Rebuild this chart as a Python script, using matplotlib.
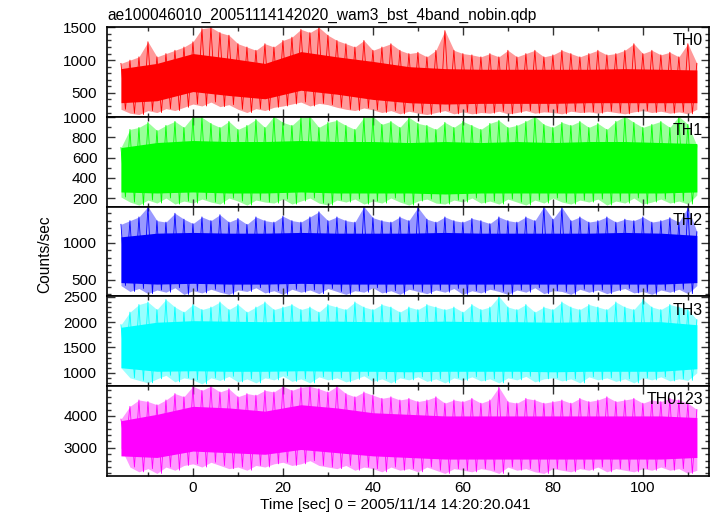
import numpy as np
import matplotlib.pyplot as plt
from matplotlib.ticker import MultipleLocator

plt.rcParams['font.family'] = ['Liberation Sans', 'DejaVu Sans']

title = "ae100046010_20051114142020_wam3_bst_4band_nobin.qdp"
xlabel = "Time [sec] 0 = 2005/11/14 14:20:20.041"
ylabel = "Counts/sec"

# time grids (sec): spike envelope every 2 s, dense core every 8 s
t_spk = np.arange(-16, 113, 2)
t_core = np.arange(-16, 113, 8)

# TH0
th0_hi = [950, 1000, 1050, 1280, 1050, 1100, 1150, 1200, 1280, 1480,
          1500, 1420, 1380, 1250, 1200, 1150, 1250, 1200, 1300, 1350,
          1470, 1420, 1500, 1380, 1300, 1250, 1200, 1300, 1150, 1200,
          1250, 1150, 1100, 1120, 1050, 1150, 1450, 1150, 1100, 1080,
          1050, 1100, 1050, 1150, 1050, 1100, 1150, 1050, 1080, 1150,
          1100, 1050, 1100, 1150, 1080, 1100, 1150, 1250, 1100, 1150,
          1080, 1120, 1050, 1250, 950]
th0_lo = [250, 190, 170, 230, 200, 260, 230, 280, 330, 300,
          360, 290, 320, 250, 200, 260, 230, 280, 300, 330,
          360, 300, 340, 320, 280, 250, 230, 270, 240, 200,
          230, 180, 220, 190, 170, 200, 230, 180, 210, 180,
          200, 190, 220, 180, 200, 230, 190, 210, 200, 180,
          220, 200, 210, 190, 220, 200, 180, 210, 230, 200,
          220, 190, 210, 180, 250]
th0_core_hi = [870, 950, 1100, 1030, 950, 1130, 1050, 980, 900, 870, 860, 860, 860, 860, 870, 860, 850]
th0_core_lo = [350, 380, 520, 460, 410, 540, 480, 400, 350, 330, 340, 340, 340, 350, 350, 350, 350]

# TH1
th1_hi = [700, 880, 900, 950, 870, 920, 960, 900, 1010, 1000,
          940, 900, 960, 880, 920, 980, 900, 1010, 950, 920,
          1000, 1010, 900, 950, 970, 920, 880, 1000, 1010, 930,
          960, 900, 1000, 940, 920, 880, 950, 900, 960, 920,
          880, 940, 970, 900, 920, 960, 1010, 930, 900, 950,
          920, 960, 900, 940, 880, 960, 1010, 950, 900, 930,
          960, 900, 1010, 930, 720]
th1_lo = [210, 160, 130, 180, 150, 200, 140, 170, 150, 190,
          160, 140, 200, 170, 130, 180, 160, 150, 190, 140,
          170, 200, 150, 130, 180, 160, 190, 140, 170, 150,
          200, 160, 130, 170, 190, 150, 140, 180, 160, 200,
          150, 170, 140, 190, 160, 130, 180, 150, 200, 160,
          140, 180, 160, 190, 130, 170, 150, 200, 140, 160,
          190, 150, 170, 140, 230]
th1_core_hi = [700, 750, 770, 760, 760, 770, 760, 760, 750, 760, 750, 760, 750, 760, 760, 750, 740]
th1_core_lo = [260, 250, 260, 250, 250, 260, 250, 250, 250, 240, 250, 250, 250, 250, 250, 250, 260]

# TH2
th2_hi = [1250, 1300, 1350, 1490, 1300, 1280, 1400, 1320, 1260, 1350,
          1300, 1380, 1280, 1330, 1250, 1350, 1300, 1280, 1360, 1300,
          1280, 1350, 1420, 1300, 1350, 1300, 1280, 1490, 1340, 1300,
          1280, 1350, 1300, 1480, 1320, 1280, 1350, 1300, 1280, 1330,
          1300, 1260, 1350, 1300, 1280, 1350, 1300, 1490, 1320, 1480,
          1300, 1350, 1280, 1300, 1350, 1280, 1320, 1300, 1350, 1280,
          1300, 1340, 1280, 1480, 1150]
th2_lo = [420, 340, 380, 310, 360, 330, 390, 300, 350, 320,
          370, 330, 300, 360, 340, 390, 320, 350, 300, 370,
          330, 360, 310, 380, 340, 300, 350, 330, 390, 320,
          350, 300, 370, 340, 310, 360, 330, 380, 300, 350,
          320, 370, 340, 300, 360, 330, 390, 310, 350, 340,
          300, 370, 330, 360, 310, 350, 380, 320, 340, 300,
          360, 330, 370, 310, 420]
th2_core_hi = [1080, 1130, 1140, 1130, 1130, 1140, 1130, 1130, 1130, 1140, 1130, 1130, 1130, 1130, 1140, 1130, 1100]
th2_core_lo = [460, 440, 450, 440, 440, 450, 440, 440, 440, 440, 440, 440, 440, 440, 440, 440, 460]

# TH3
th3_hi = [1950, 2200, 2350, 2400, 2250, 2450, 2300, 2200, 2350, 2250,
          2300, 2400, 2250, 2350, 2200, 2300, 2400, 2250, 2300, 2350,
          2250, 2300, 2200, 2350, 2300, 2250, 2400, 2300, 2250, 2350,
          2300, 2200, 2300, 2250, 2350, 2300, 2250, 2300, 2200, 2350,
          2250, 2300, 2510, 2300, 2250, 2350, 2200, 2300, 2250, 2400,
          2300, 2250, 2350, 2300, 2250, 2400, 2300, 2250, 2450, 2300,
          2250, 2350, 2300, 2250, 2050]
th3_lo = [1100, 900, 850, 800, 880, 950, 820, 900, 860, 780,
          900, 850, 930, 820, 880, 800, 900, 860, 940, 830,
          880, 800, 920, 860, 900, 820, 870, 940, 830, 880,
          800, 900, 860, 920, 830, 880, 800, 900, 850, 920,
          840, 880, 800, 900, 860, 930, 820, 880, 900, 840,
          880, 800, 920, 860, 900, 830, 880, 800, 900, 860,
          920, 840, 880, 850, 1000]
th3_core_hi = [1900, 2000, 2030, 2020, 2010, 2020, 2020, 2010, 2010, 2020, 2010, 2010, 2000, 2010, 2010, 2010, 1950]
th3_core_lo = [1100, 1030, 1040, 1030, 1030, 1040, 1030, 1030, 1020, 1030, 1030, 1030, 1020, 1030, 1030, 1030, 1080]

# TH0123
th4_hi = [3900, 4300, 4500, 4450, 4350, 4500, 4700, 4600, 4930, 4800,
          4930, 4750, 4850, 4600, 4700, 4650, 4800, 4750, 4930, 4800,
          4900, 4930, 4850, 4750, 4930, 4700, 4600, 4750, 4650, 4550,
          4600, 4500, 4550, 4450, 4500, 4600, 4400, 4500, 4450, 4550,
          4400, 4500, 4900, 4450, 4400, 4550, 4500, 4400, 4450, 4500,
          4400, 4550, 4450, 4500, 4600, 4450, 4500, 4550, 4400, 4500,
          4450, 4550, 4500, 4400, 4200]
th4_lo = [3000, 2400, 2250, 2350, 2200, 2400, 2300, 2450, 2500, 2400,
          2550, 2450, 2350, 2400, 2300, 2450, 2400, 2500, 2550, 2450,
          2500, 2600, 2450, 2400, 2350, 2450, 2300, 2400, 2350, 2250,
          2400, 2300, 2350, 2250, 2400, 2300, 2200, 2350, 2300, 2250,
          2350, 2300, 2200, 2400, 2300, 2350, 2250, 2200, 2350, 2300,
          2250, 2350, 2300, 2400, 2250, 2350, 2300, 2250, 2350, 2300,
          2400, 2300, 2350, 2200, 2300]
th4_core_hi = [3850, 4050, 4300, 4250, 4150, 4350, 4250, 4100, 4050, 4000, 4000, 4000, 4000, 4000, 4000, 4000, 3950]
th4_core_lo = [2750, 2700, 2900, 2850, 2800, 2950, 2850, 2750, 2700, 2650, 2650, 2650, 2650, 2650, 2650, 2650, 2700]

panels = [
    ("TH0", "#ff0000", th0_lo, th0_hi, th0_core_lo, th0_core_hi, (135, 1505), 500, 100),
    ("TH1", "#00ff00", th1_lo, th1_hi, th1_core_lo, th1_core_hi, (115, 1005), 200, 100),
    ("TH2", "#0000ff", th2_lo, th2_hi, th2_core_lo, th2_core_hi, (273, 1490), 500, 100),
    ("TH3", "#00ffff", th3_lo, th3_hi, th3_core_lo, th3_core_hi, (735, 2510), 500, 100),
    ("TH0123", "#ff00ff", th4_lo, th4_hi, th4_core_lo, th4_core_hi, (2120, 4930), 1000, 200),
]

W, H = 717, 516
fig = plt.figure(figsize=(W / 100, H / 100), dpi=100)
left, right, top, bottom = 107, 709, 27, 476
ph = (bottom - top) / len(panels)

for i, (name, c, lo, hi, clo, chi, ylim, maj, mnr) in enumerate(panels):
    ax = fig.add_axes([left / W, 1 - (top + (i + 1) * ph) / H, (right - left) / W, ph / H])
    # zig-zag through the spike tips, like the raw light curve
    zx = np.column_stack([t_spk, t_spk + 1.0]).ravel()[:-1]
    zy = np.column_stack([hi, lo]).ravel()[:-1]
    ax.fill_between(t_spk, lo, hi, color=c, alpha=0.4, lw=0)
    ax.plot(zx, zy, color=c, lw=0.6)
    ax.fill_between(t_core, clo, chi, color=c, lw=0)
    ax.set_xlim(-19.1, 114.7)
    ax.set_ylim(*ylim)
    ax.xaxis.set_major_locator(MultipleLocator(20))
    ax.xaxis.set_minor_locator(MultipleLocator(10))
    ax.yaxis.set_major_locator(MultipleLocator(maj))
    ax.yaxis.set_minor_locator(MultipleLocator(mnr))
    ax.tick_params(which='both', direction='in', top=True, right=True,
                   labelsize=11, width=1, color='#333333')
    ax.tick_params(axis='y', pad=7)
    ax.tick_params(axis='x', pad=3.5)
    ax.tick_params(which='major', length=6)
    ax.tick_params(which='minor', length=3)
    if i < len(panels) - 1:
        ax.tick_params(axis='x', labelbottom=False)
    for s in ax.spines.values():
        s.set_linewidth(1.2)
    ax.text(0.99, 0.93, name, transform=ax.transAxes, ha='right', va='top', fontsize=11.5)

fig.text(left / W, 1 - 19.5 / H, title, ha='left', va='baseline', fontsize=11.2)
fig.text(260 / W, 1 - 509 / H, xlabel, ha='left', va='baseline', fontsize=11.1)
fig.text(45 / W, 1 - 254 / H, ylabel, ha='center', va='center', rotation=90, fontsize=11.2)

fig.savefig("out.png", dpi=100)
